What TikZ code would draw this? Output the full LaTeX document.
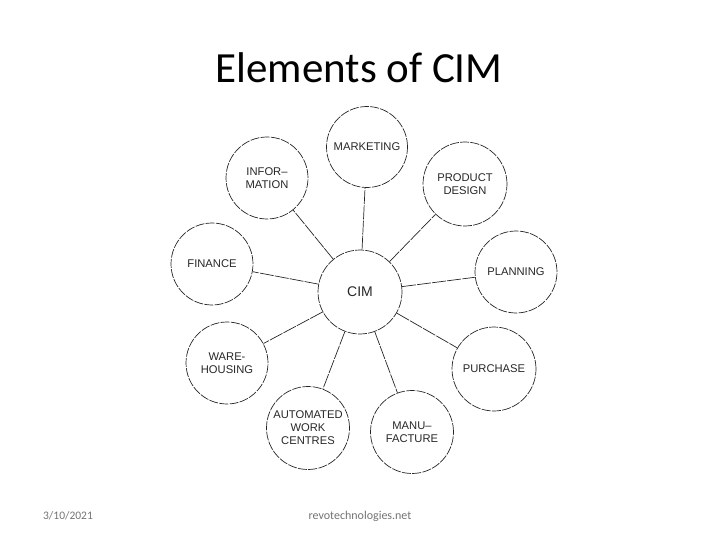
\documentclass[tikz,border=0pt]{standalone}
\usepackage{fontspec}
\setmainfont{Carlito}
\newfontfamily\lblfont{Liberation Sans}
\begin{document}
\begin{tikzpicture}[x=1pt,y=-1pt,
  elem/.style={circle,draw=black!85,line width=0.7pt,dash pattern=on 9pt off 1.3pt,minimum size=#1,inner sep=0pt,align=center,font=\lblfont\fontsize{11.2}{13}\selectfont,text=black!85},
  elem/.default=83pt,
  link/.style={draw=black!85,line width=0.7pt,dash pattern=on 14pt off 1.2pt}]
\useasboundingbox (0,0) rectangle (720,540);
\node[font=\fontsize{43}{47}\selectfont] (title) at (359,68) {Elements of CIM};
\node[elem=84pt,font=\lblfont\fontsize{14}{16}\selectfont] (cim) at (360,292) {CIM};
\node[elem=81pt] (mkt) at (367,147) {MARKETING};
\node[elem=82pt] (info) at (267,178) {INFOR–\\MATION};
\node[elem=84pt] (prod) at (465,184) {PRODUCT\\DESIGN};
\node[elem=82pt] (plan) at (516,272) {PLANNING};
\node[elem=82pt] (fin) at (212,264) {FINANCE};
\node[elem=82pt] (ware) at (227,363) {WARE-\\HOUSING};
\node[elem=83pt] (auto) at (308,428) {AUTOMATED\\WORK\\CENTRES};
\node[elem=83pt] (manu) at (412,432) {MANU–\\FACTURE};
\node[elem=84pt] (pur) at (494,369) {PURCHASE};
\foreach \n in {mkt,info,prod,plan,fin,ware,auto,manu,pur}
  \draw[link] (cim) -- (\n);
\node[text=black!55,font=\fontsize{11.5}{14}\selectfont] (date) at (68,516) {3/10/2021};
\node[text=black!55,font=\fontsize{12}{14}\selectfont] (site) at (360,516) {revotechnologies.net};
\end{tikzpicture}
\end{document}
